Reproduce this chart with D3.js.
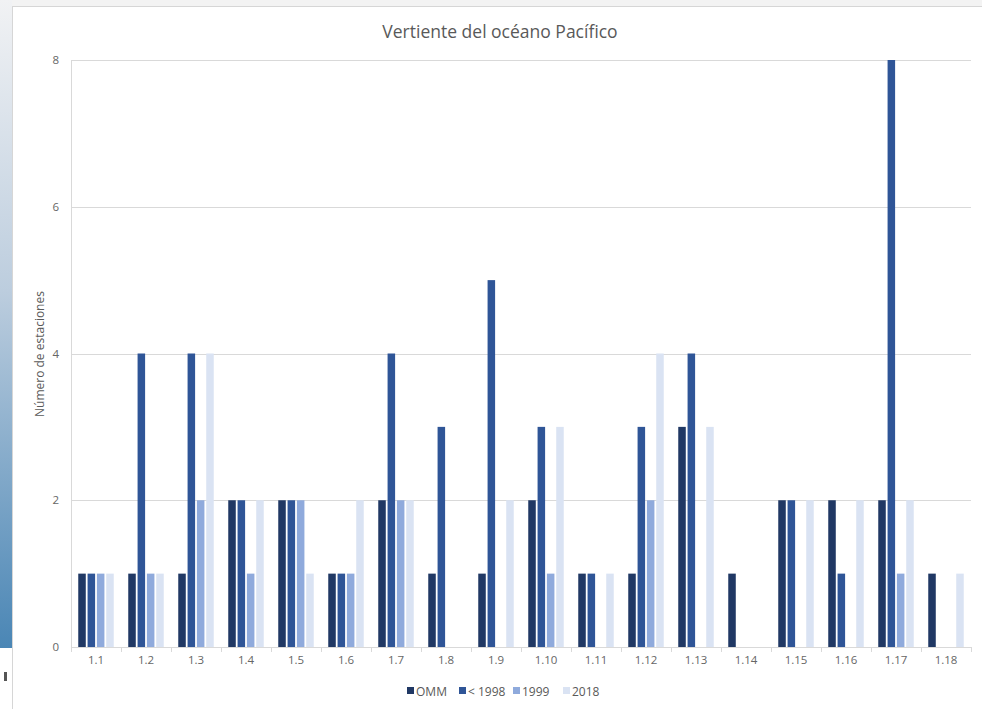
<!DOCTYPE html>
<html>
<head>
<meta charset="utf-8">
<script src="https://cdn.jsdelivr.net/npm/d3@7"></script>
<style>
  html, body { margin: 0; padding: 0; background: #fff; }
  svg { display: block; }
  text { font-family: "Open Sans", "Noto Sans", sans-serif; }
</style>
</head>
<body>
<svg id="chart" width="982" height="709"></svg>
<script>
const categories = ["1.1","1.2","1.3","1.4","1.5","1.6","1.7","1.8","1.9","1.10","1.11","1.12","1.13","1.14","1.15","1.16","1.17","1.18"];
const seriesNames = ["OMM", "< 1998", "1999", "2018"];
const omm     = [1,1,1,2,2,1,2,1,1,2,1,1,3,1,2,2,2,1];
const pre1998 = [1,4,4,2,2,1,4,3,5,3,1,3,4,0,2,1,8,0];
const y1999   = [1,1,2,1,2,1,2,0,0,1,0,2,0,0,0,0,1,0];
const y2018   = [1,1,4,2,1,2,2,0,2,3,1,4,3,0,2,2,2,1];
const yTicks  = [0, 2, 4, 6, 8];
const colors  = ["#203864", "#2F5597", "#8FAADC", "#DAE3F3"];

const seriesValues = [omm, pre1998, y1999, y2018];

const svg = d3.select("#chart");
const W = 982, H = 709;
const plot = { left: 71, right: 971, top: 60, bottom: 647 };

// window chrome: left gradient strip and frame
const defs = svg.append("defs");
const grad = defs.append("linearGradient").attr("id", "strip").attr("x1", 0).attr("y1", 0).attr("x2", 0).attr("y2", 1);
grad.append("stop").attr("offset", "0%").attr("stop-color", "#f1f2f4");
grad.append("stop").attr("offset", "45%").attr("stop-color", "#bccdde");
grad.append("stop").attr("offset", "100%").attr("stop-color", "#4a86b5");
svg.append("rect").attr("x", 0).attr("y", 0).attr("width", W).attr("height", 6).attr("fill", "#f3f3f3");
svg.append("rect").attr("x", 0).attr("y", 0).attr("width", 12).attr("height", 648).attr("fill", "url(#strip)");
svg.append("rect").attr("x", 4).attr("y", 672).attr("width", 3).attr("height", 9).attr("fill", "#555");
svg.append("line").attr("x1", 12.5).attr("x2", 12.5).attr("y1", 6).attr("y2", H).attr("stroke", "#d6d6d6");
svg.append("line").attr("x1", 12).attr("x2", W).attr("y1", 6.5).attr("y2", 6.5).attr("stroke", "#d6d6d6");

// scales
const x0 = d3.scaleBand().domain(categories).range([plot.left, plot.right]).paddingInner(0.254).paddingOuter(0.127);
const x1 = d3.scaleBand().domain(seriesNames).range([0, x0.bandwidth()]);
const y = d3.scaleLinear().domain([0, 8]).range([plot.bottom, plot.top]);

// gridlines
svg.append("g").selectAll("line").data(yTicks.filter(d => d > 0)).join("line")
  .attr("x1", plot.left).attr("x2", plot.right)
  .attr("y1", d => Math.round(y(d)) + 0.5).attr("y2", d => Math.round(y(d)) + 0.5)
  .attr("stroke", "#d9d9d9").attr("stroke-width", 1);
// left axis line
svg.append("line").attr("x1", plot.left + 0.5).attr("x2", plot.left + 0.5)
  .attr("y1", plot.top).attr("y2", plot.bottom).attr("stroke", "#d9d9d9");

// y axis
const yAxis = d3.axisLeft(y).tickValues(yTicks).tickSize(0).tickPadding(12);
const gy = svg.append("g").attr("transform", `translate(${plot.left},0)`).call(yAxis);
gy.select(".domain").remove();
gy.selectAll("text").attr("fill", "#666").style("font-size", "11.5px");

// bars
const data = categories.map((c, i) => ({ cat: c, vals: seriesNames.map((s, j) => ({ s, j, v: seriesValues[j][i] })) }));
svg.append("g").selectAll("g").data(data).join("g")
  .attr("transform", d => `translate(${x0(d.cat)},0)`)
  .selectAll("rect").data(d => d.vals.filter(v => v.v > 0)).join("rect")
  .attr("x", d => x1(d.s) + 0.9)
  .attr("width", x1.bandwidth() - 1.8)
  .attr("y", d => y(d.v))
  .attr("height", d => y(0) - y(d.v))
  .attr("fill", d => colors[d.j]);

// x axis
const xAxis = d3.axisBottom(x0).tickSize(0).tickPadding(9);
const gx = svg.append("g").attr("transform", `translate(0,${plot.bottom})`).call(xAxis);
gx.select(".domain").remove();
gx.selectAll("text").attr("fill", "#666").style("font-size", "11.5px");
svg.append("line").attr("x1", plot.left).attr("x2", plot.right)
  .attr("y1", plot.bottom + 0.5).attr("y2", plot.bottom + 0.5).attr("stroke", "#d9d9d9");
const boundaries = categories.map(c => x0(c) - x0.step() * x0.paddingOuter()).concat([plot.right]);
svg.append("g").selectAll("line").data(boundaries).join("line")
  .attr("x1", d => Math.round(d) + 0.5).attr("x2", d => Math.round(d) + 0.5)
  .attr("y1", plot.bottom).attr("y2", plot.bottom + 5).attr("stroke", "#d9d9d9");

// title
svg.append("text").attr("x", 500).attr("y", 38).attr("text-anchor", "middle")
  .attr("fill", "#595959").style("font-size", "17.5px").text("Vertiente del océano Pacífico");

// y axis title
svg.append("text").attr("transform", "translate(44,354) rotate(-90)").attr("text-anchor", "middle")
  .attr("fill", "#595959").style("font-size", "12px").text("Número de estaciones");

// legend
const legendX = [407, 459, 513, 563];
const lg = svg.append("g").selectAll("g").data(seriesNames).join("g")
  .attr("transform", (d, i) => `translate(${legendX[i]},691)`);
lg.append("rect").attr("x", 0).attr("y", -4).attr("width", 7).attr("height", 7).attr("fill", (d, i) => colors[i]);
lg.append("text").attr("x", 9).attr("y", 4.5).attr("fill", "#595959").style("font-size", "12px").text(d => d);
</script>
</body>
</html>
